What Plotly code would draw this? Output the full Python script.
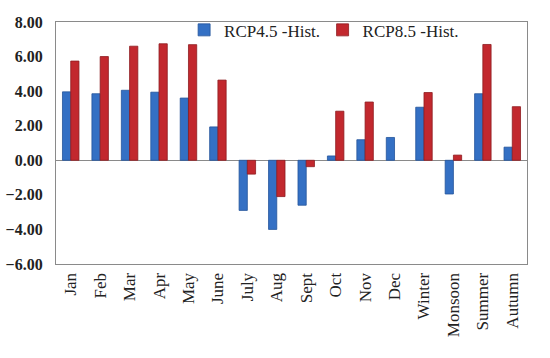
import plotly.graph_objects as go

categories = ["Jan", "Feb", "Mar", "Apr", "May", "June", "July", "Aug", "Sept",
              "Oct", "Nov", "Dec", "Winter", "Monsoon", "Summer", "Autumn"]
rcp45 = [3.96, 3.85, 4.05, 3.94, 3.60, 1.93, -2.9, -4.0, -2.6,
         0.25, 1.19, 1.32, 3.07, -1.95, 3.85, 0.76]
rcp85 = [5.74, 6.00, 6.60, 6.74, 6.69, 4.64, -0.8, -2.1, -0.37,
         2.84, 3.37, None, 3.92, 0.30, 6.70, 3.10]
y_ticks = [-6, -4, -2, 0, 2, 4, 6, 8]

fig = go.Figure()
fig.add_trace(go.Bar(x=categories, y=rcp45, name="RCP4.5 -Hist.", legend="legend",
                     marker=dict(color="#3470C4", line=dict(color="#24549A", width=0.8))))
fig.add_trace(go.Bar(x=categories, y=rcp85, name="RCP8.5 -Hist.", legend="legend2",
                     marker=dict(color="#C2282E", line=dict(color="#8E1C20", width=0.8))))

leg_common = dict(orientation="h", yanchor="top", xanchor="left", y=1.04,
                  bgcolor="rgba(0,0,0,0)", font=dict(size=17), itemwidth=30)

fig.update_layout(
    width=550, height=358,
    margin=dict(l=56, r=23, t=22, b=94),
    paper_bgcolor="white", plot_bgcolor="white",
    barmode="group", bargap=0.44, bargroupgap=0.0,
    font=dict(family="Liberation Serif, Times New Roman, serif", color="#222"),
    legend=dict(x=0.272, **leg_common),
    legend2=dict(x=0.566, **leg_common),
    showlegend=True,
)
fig.update_xaxes(showline=True, linecolor="#8a8a8a", linewidth=1.2, mirror=True,
                 tickangle=-90, tickfont=dict(size=17), ticks="", automargin=False,
                 ticklabelstandoff=1, showgrid=False)
fig.update_yaxes(range=[-6, 8], tickvals=y_ticks,
                 ticktext=[("\u2212" if v < 0 else "") + f"{abs(v):.2f}" for v in y_ticks],
                 showline=True, linecolor="#8a8a8a", linewidth=1.2, mirror=True,
                 tickfont=dict(size=16, family="Liberation Serif, serif", weight="bold"),
                 showgrid=False, zeroline=True, zerolinecolor="#8a8a8a", zerolinewidth=1,
                 ticks="", ticklabelstandoff=9, automargin=False)

fig.write_html("out.html", config={"displayModeBar": False},
               post_script="document.body.style.margin='0';")
